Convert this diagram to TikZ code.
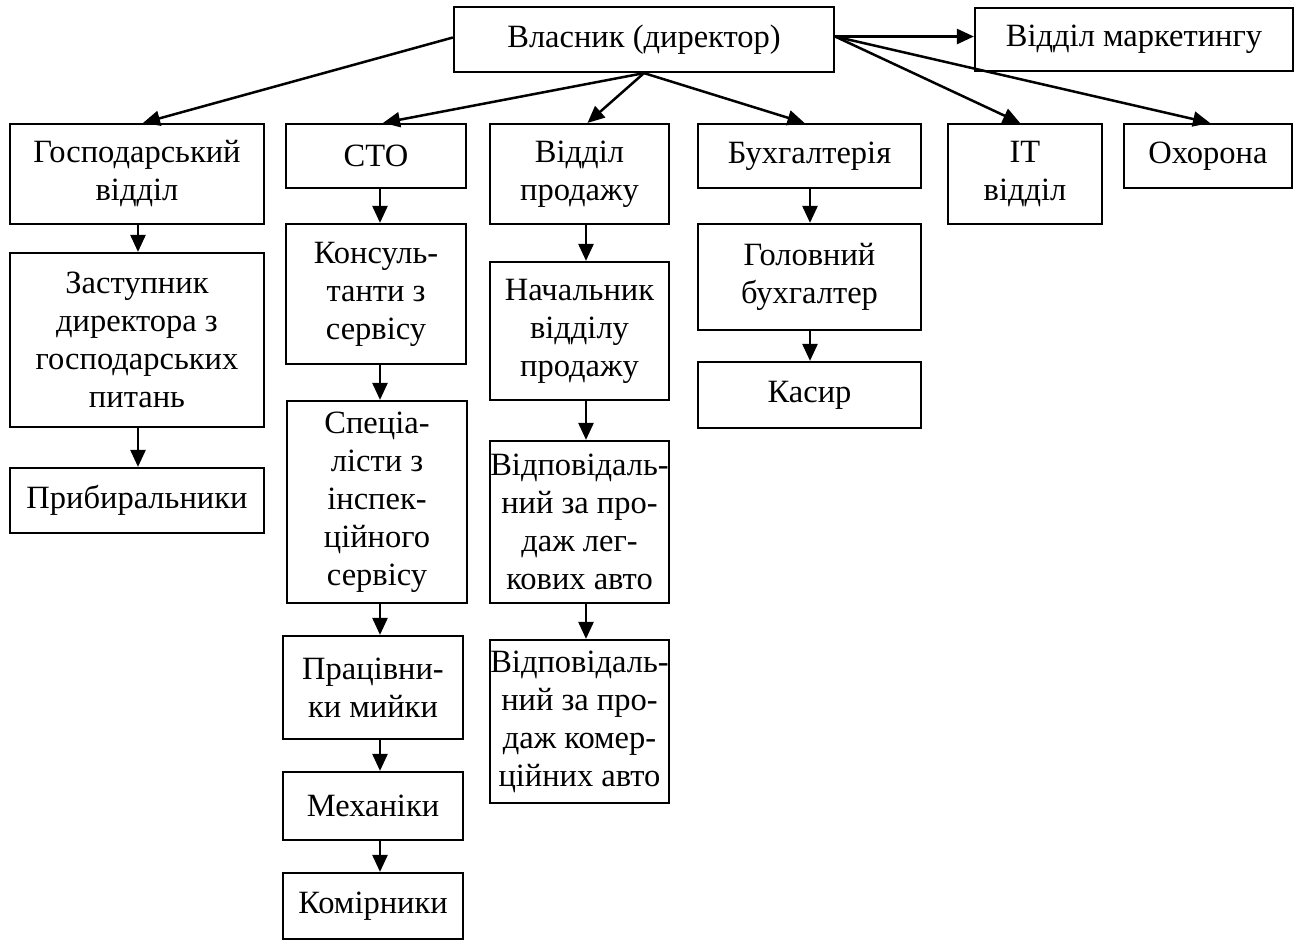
\documentclass[tikz,border=0pt]{standalone}
\usepackage{fontspec}
\setmainfont{Liberation Serif}
\usetikzlibrary{arrows.meta}
\begin{document}
\begin{tikzpicture}[x=1pt,y=-1pt,
  box/.style={draw,line width=2.2pt,rectangle,inner sep=0pt,align=center,
    font=\fontsize{32.5}{38}\selectfont},
  arr/.style={line width=2.5pt,-{Triangle[length=17pt,width=15pt]}}]
\useasboundingbox[fill=white] (0,0) rectangle (1299,940);
% top
\node[box,minimum width=380pt,minimum height=65pt] (dir) at (644,39.5) {Власник (директор)};
\node[box,minimum width=318pt,minimum height=63pt] (mark) at (1134,39.5) {Відділ маркетингу};
% row 2
\node[box,minimum width=254pt,minimum height=100pt] (gosp) at (137,174) {Господарський\\відділ};
\node[box,minimum width=180pt,minimum height=64pt] (sto) at (376,156) {СТО};
\node[box,minimum width=179pt,minimum height=100pt] (prod) at (579.5,174) {Відділ\\продажу};
\node[box,minimum width=223pt,minimum height=64pt] (buh) at (809.5,156) {Бухгалтерія};
\node[box,minimum width=154pt,minimum height=100pt] (it) at (1025,174) {IT\\відділ};
\node[box,minimum width=168pt,minimum height=64pt] (okh) at (1208,156) {Охорона};
% column 1
\node[box,minimum width=254pt,minimum height=174pt] (zast) at (137,340) {Заступник\\директора з\\господарських\\питань};
\node[box,minimum width=254pt,minimum height=65pt] (prib) at (137,500.5) {Прибиральники};
% column 2
\node[box,minimum width=180pt,minimum height=140pt] (kons) at (376,294) {Консуль-\\танти з\\сервісу};
\node[box,minimum width=180pt,minimum height=202pt] (spec) at (377,502) {Спеціа-\\лісти з\\інспек-\\ційного\\сервісу};
\node[box,minimum width=180pt,minimum height=103pt] (prac) at (373,687.5) {Працівни-\\ки мийки};
\node[box,minimum width=180pt,minimum height=68pt] (mech) at (373,806) {Механіки};
\node[box,minimum width=180pt,minimum height=66pt] (kom) at (373,906) {Комірники};
% column 3
\node[box,minimum width=179pt,minimum height=138pt] (nach) at (579.5,331) {Начальник\\відділу\\продажу};
\node[box,minimum width=179pt,minimum height=162pt] (vid1) at (579.5,522) {Відповідаль-\\ний за про-\\даж лег-\\кових авто};
\node[box,minimum width=179pt,minimum height=163pt] (vid2) at (579.5,721.5) {Відповідаль-\\ний за про-\\даж комер-\\ційних авто};
% column 4
\node[box,minimum width=223pt,minimum height=106pt] (golov) at (809.5,277) {Головний\\бухгалтер};
\node[box,minimum width=223pt,minimum height=66pt] (kasyr) at (809.5,395) {Касир};
% column axes
\coordinate (c1) at (138,0);
\coordinate (c2) at (380,0);
\coordinate (c3) at (586,0);
\coordinate (c4) at (810,0);
% arrows from director
\draw[arr] ([yshift=2pt]dir.west) -- ([xshift=6pt]gosp.north);
\draw[arr] (dir.south) -- ([xshift=7pt]sto.north);
\draw[arr] (dir.south) -- ([xshift=8pt]prod.north);
\draw[arr] (dir.south) -- ([xshift=-5pt]buh.north);
\draw[arr] ([yshift=3pt]dir.east) -- ([yshift=3pt]mark.west);
\draw[arr] ([yshift=3pt]dir.east) -- ([xshift=-5pt]it.north);
\draw[arr] ([yshift=3pt]dir.east) -- ([xshift=2pt]okh.north);
% vertical chains
\draw[arr] (gosp.south -| c1) -- (zast.north -| c1);
\draw[arr] (zast.south -| c1) -- (prib.north -| c1);
\draw[arr] (sto.south -| c2) -- (kons.north -| c2);
\draw[arr] (kons.south -| c2) -- (spec.north -| c2);
\draw[arr] (spec.south -| c2) -- (prac.north -| c2);
\draw[arr] (prac.south -| c2) -- (mech.north -| c2);
\draw[arr] (mech.south -| c2) -- (kom.north -| c2);
\draw[arr] (prod.south -| c3) -- (nach.north -| c3);
\draw[arr] (nach.south -| c3) -- (vid1.north -| c3);
\draw[arr] (vid1.south -| c3) -- (vid2.north -| c3);
\draw[arr] (buh.south -| c4) -- (golov.north -| c4);
\draw[arr] (golov.south -| c4) -- (kasyr.north -| c4);
\end{tikzpicture}
\end{document}
